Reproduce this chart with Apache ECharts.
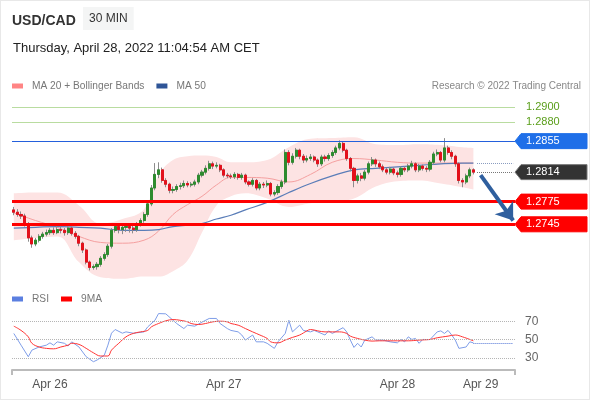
<!DOCTYPE html>
<html>
<head>
<meta charset="utf-8">
<script src="https://cdn.jsdelivr.net/npm/echarts@6/dist/echarts.min.js"></script>
<style>
  html, body { margin: 0; padding: 0; background: #fff; }
  #main { width: 590px; height: 400px; }
  #frame { position: absolute; left: 0; top: 0; width: 588px; height: 398px; border: 1px solid #e8e8e8; pointer-events: none; }
</style>
</head>
<body>
<div id="main"></div>
<div id="frame"></div>
<script>
// slots on the time axis (30 min bars, incl. empty space on the right)
const N_SLOTS = 139
const dayLabels = ["Apr 26", "Apr 27", "Apr 28", "Apr 29"]
const dayIndex = [10, 58, 106, 129]

// USD/CAD 30 min candles
const firstOpen = 1.2764
const closes = [
  1.2761, 1.2758, 1.2756, 1.2745, 1.2727, 1.2719, 1.2724, 1.2729, 1.2732, 1.2734,
  1.2737, 1.2734, 1.2738, 1.2737, 1.2734, 1.2740, 1.2733, 1.2729, 1.2720, 1.2711,
  1.2695, 1.2688, 1.2689, 1.2692, 1.2700, 1.2705, 1.2716, 1.2737, 1.2742, 1.2738,
  1.2741, 1.2742, 1.2740, 1.2738, 1.2745, 1.2750, 1.2758, 1.2772, 1.2793, 1.2811,
  1.2817, 1.2803, 1.2798, 1.2790, 1.2791, 1.2795, 1.2796, 1.2799, 1.2797, 1.2798,
  1.2801, 1.2810, 1.2814, 1.2819, 1.2825, 1.2822, 1.2823, 1.2817, 1.2810, 1.2809,
  1.2808, 1.2811, 1.2807, 1.2810, 1.2801, 1.2798, 1.2803, 1.2793, 1.2798, 1.2797,
  1.2799, 1.2785, 1.2787, 1.2795, 1.2801, 1.2840, 1.2827, 1.2835, 1.2843, 1.2835,
  1.2830, 1.2832, 1.2834, 1.2830, 1.2825, 1.2834, 1.2832, 1.2836, 1.2840, 1.2846,
  1.2852, 1.2843, 1.2832, 1.2819, 1.2803, 1.2809, 1.2806, 1.2814, 1.2825, 1.2830,
  1.2825, 1.2821, 1.2817, 1.2814, 1.2818, 1.2813, 1.2811, 1.2819, 1.2817, 1.2822,
  1.2825, 1.2817, 1.2822, 1.2819, 1.2818, 1.2827, 1.2838, 1.2840, 1.2830, 1.2846,
  1.2840, 1.2835, 1.2825, 1.2803, 1.2801, 1.2809, 1.2817, 1.2814
]
const highs = [
  1.2768, 1.2765, 1.2762, 1.2759, 1.2748, 1.2730, 1.2727, 1.2732, 1.2735, 1.2738,
  1.2740, 1.2741, 1.2743, 1.2742, 1.2740, 1.2744, 1.2742, 1.2736, 1.2731, 1.2722,
  1.2713, 1.2697, 1.2692, 1.2695, 1.2703, 1.2708, 1.2719, 1.2740, 1.2746, 1.2745,
  1.2744, 1.2746, 1.2745, 1.2743, 1.2748, 1.2753, 1.2761, 1.2775, 1.2797, 1.2826,
  1.2827, 1.2820, 1.2806, 1.2800, 1.2795, 1.2798, 1.2800, 1.2803, 1.2802, 1.2801,
  1.2804, 1.2813, 1.2817, 1.2823, 1.2829, 1.2828, 1.2827, 1.2825, 1.2819, 1.2813,
  1.2812, 1.2814, 1.2813, 1.2813, 1.2812, 1.2803, 1.2806, 1.2805, 1.2801, 1.2801,
  1.2803, 1.2801, 1.2790, 1.2798, 1.2804, 1.2844, 1.2843, 1.2839, 1.2846, 1.2845,
  1.2838, 1.2836, 1.2838, 1.2836, 1.2832, 1.2837, 1.2837, 1.2839, 1.2843, 1.2849,
  1.2856, 1.2854, 1.2845, 1.2834, 1.2821, 1.2812, 1.2813, 1.2817, 1.2828, 1.2834,
  1.2832, 1.2828, 1.2824, 1.2820, 1.2821, 1.2820, 1.2816, 1.2822, 1.2822, 1.2825,
  1.2829, 1.2827, 1.2825, 1.2824, 1.2822, 1.2830, 1.2841, 1.2844, 1.2842, 1.2859,
  1.2849, 1.2843, 1.2837, 1.2827, 1.2806, 1.2812, 1.2820, 1.2819
]
const lows = [
  1.2757, 1.2755, 1.2752, 1.2742, 1.2722, 1.2714, 1.2716, 1.2721, 1.2726, 1.2729,
  1.2731, 1.2731, 1.2732, 1.2733, 1.2730, 1.2731, 1.2730, 1.2726, 1.2716, 1.2707,
  1.2692, 1.2684, 1.2685, 1.2685, 1.2689, 1.2697, 1.2702, 1.2713, 1.2734, 1.2733,
  1.2732, 1.2735, 1.2734, 1.2733, 1.2735, 1.2742, 1.2747, 1.2755, 1.2769, 1.2790,
  1.2806, 1.2800, 1.2794, 1.2786, 1.2786, 1.2788, 1.2791, 1.2793, 1.2794, 1.2794,
  1.2795, 1.2798, 1.2807, 1.2811, 1.2816, 1.2818, 1.2819, 1.2814, 1.2807, 1.2806,
  1.2805, 1.2805, 1.2804, 1.2804, 1.2798, 1.2795, 1.2795, 1.2790, 1.2790, 1.2793,
  1.2794, 1.2782, 1.2782, 1.2784, 1.2792, 1.2798, 1.2823, 1.2824, 1.2832, 1.2831,
  1.2826, 1.2827, 1.2829, 1.2827, 1.2821, 1.2822, 1.2828, 1.2829, 1.2833, 1.2837,
  1.2843, 1.2840, 1.2829, 1.2815, 1.2794, 1.2799, 1.2802, 1.2803, 1.2811, 1.2822,
  1.2821, 1.2818, 1.2814, 1.2811, 1.2811, 1.2810, 1.2807, 1.2808, 1.2814, 1.2814,
  1.2819, 1.2814, 1.2814, 1.2816, 1.2814, 1.2815, 1.2824, 1.2835, 1.2827, 1.2827,
  1.2837, 1.2831, 1.2821, 1.2799, 1.2794, 1.2798, 1.2806, 1.2811
]

// MA 20 + Bollinger Bands, MA 50 (read every few bars)
const bandIdx = [0, 6, 12, 18, 24, 30, 36, 40, 44, 48, 52, 56, 60, 64, 70, 76, 82, 88, 94, 100, 106, 112, 118, 124, 127]
const bbUpper = [1.2786, 1.2787, 1.2787, 1.2770, 1.2746, 1.2752, 1.2765, 1.2810, 1.2830, 1.2835, 1.2836, 1.2834, 1.2827, 1.2827, 1.2830, 1.2847, 1.2858, 1.2859, 1.2860, 1.2851, 1.2850, 1.2851, 1.2850, 1.2847, 1.2846]
const bbLower = [1.2724, 1.2727, 1.2729, 1.2695, 1.2675, 1.2673, 1.2676, 1.2676, 1.2683, 1.2697, 1.2734, 1.2770, 1.2782, 1.2786, 1.2779, 1.2768, 1.2773, 1.2775, 1.2779, 1.2795, 1.2802, 1.2803, 1.2799, 1.2794, 1.2791]
const ma20 = [1.2760, 1.2750, 1.2741, 1.2729, 1.2721, 1.2720, 1.2724, 1.2736, 1.2758, 1.2771, 1.2782, 1.2797, 1.2807, 1.2807, 1.2806, 1.2801, 1.2811, 1.2827, 1.2832, 1.2830, 1.2827, 1.2826, 1.2826, 1.2826, 1.2826]
const ma50 = [1.2740, 1.2741, 1.2742, 1.2741, 1.2740, 1.2737, 1.2737, 1.2738, 1.2742, 1.2744, 1.2746, 1.2752, 1.2757, 1.2764, 1.2774, 1.2787, 1.2799, 1.2809, 1.2817, 1.2819, 1.2821, 1.2823, 1.2825, 1.2826, 1.2826]

// RSI and its 9MA: [bar index, value]
const rsi = [
  [0, 56.7], [2, 44], [4, 31.4], [5, 38.6], [7, 42], [9, 44], [10, 46.5], [11, 44], [12, 47.6], [14, 46],
  [15, 43], [16, 47.6], [18, 42], [20, 31.4], [22, 26], [23, 27.8], [25, 33], [26, 44], [27, 57], [28, 61],
  [30, 57], [31, 58.4], [33, 57], [34, 57.4], [36, 58.4], [37, 63.8], [39, 71], [40, 78.3], [42, 78], [44, 71],
  [45, 67.5], [47, 62], [48, 65.7], [50, 64.6], [52, 69], [54, 73], [56, 73], [57, 67.5], [59, 62], [60, 60],
  [62, 58.4], [63, 55], [64, 49.5], [66, 55], [67, 47.6], [69, 47.6], [70, 46], [72, 40.5], [73, 47.6], [75, 56.7],
  [76, 71], [77, 58.4], [79, 65.7], [80, 60], [82, 58.4], [83, 60], [84, 58.4], [86, 55], [87, 59.5], [88, 56.7],
  [91, 63], [92, 58.4], [93, 49.5], [94, 41.5], [95, 46], [96, 42], [97, 49.5], [99, 53], [100, 49.5], [102, 49.5],
  [104, 47.6], [106, 46.5], [107, 50.2], [108, 47.6], [109, 53], [110, 50.2], [111, 51.3], [112, 46], [113, 50.2], [115, 50],
  [117, 58.4], [118, 59.5], [119, 56.7], [120, 60], [121, 55], [122, 49.5], [123, 40.5], [125, 42], [126, 47.6], [127, 46.5]
]
const rsiMa = [
  [0, 64.6], [2, 60], [4, 53], [5, 46], [7, 42], [9, 40.5], [11, 40], [13, 42], [15, 44], [16, 46],
  [18, 44.8], [20, 40.5], [22, 35.7], [24, 32.2], [26, 32.2], [27, 38.6], [29, 46], [31, 53], [33, 56.7], [35, 58.4],
  [37, 60], [38, 63.8], [40, 67.5], [42, 70.4], [44, 71.8], [46, 71], [48, 69.3], [49, 67.5], [51, 66.4], [53, 67.5],
  [55, 69.3], [57, 70], [59, 69.3], [60, 67.5], [62, 65.7], [64, 62], [66, 58.4], [68, 55], [70, 51.3], [71, 47.6],
  [73, 46.5], [75, 49.5], [77, 52.4], [79, 55], [81, 59.5], [82, 61], [84, 59.5], [86, 58.4], [88, 58.4], [90, 58.4],
  [92, 56.7], [93, 53.8], [95, 51.3], [97, 49.5], [99, 48.4], [101, 48.7], [104, 48.7], [106, 48.7], [109, 48.7], [112, 49.5],
  [115, 50.2], [117, 52], [120, 53.8], [122, 55], [124, 53], [126, 50.2], [127, 48.7]
]
const rsiLevels = [70, 50, 30]

// key levels
const levels = [1.2900, 1.2880, 1.2855, 1.2775, 1.2745]
const lastPrice = closes[closes.length - 1]

// --- build ---
const cats = Array.from({ length: N_SLOTS }, (_, i) => String(i))
const labelAt = {}
dayIndex.forEach((d, i) => { labelAt[d] = dayLabels[i] })

const opens = closes.map((c, i) => (i === 0 ? firstOpen : closes[i - 1]))
const wickData = closes.map((c, i) => [opens[i], c, lows[i], highs[i]])
const bodyData = closes.map((c, i) => [opens[i], c, Math.min(opens[i], c), Math.max(opens[i], c)])

const pairs = (arr) => bandIdx.map((x, i) => [x, arr[i]])

const levelLine = [
  { color: "#b9dca0", width: 1 },
  { color: "#b9dca0", width: 1 },
  { color: "#2460dc", width: 1 },
  { color: "#ff0000", width: 3 },
  { color: "#ff0000", width: 3 }
]

const FONT = "Liberation Sans, Arial, sans-serif"

var myChart = echarts.init(document.getElementById("main"), null, { renderer: "canvas" })

let option = {
  animation: false,
  textStyle: { fontFamily: FONT },
  title: [
    { text: "USD/CAD", left: 7, top: 9, textStyle: { fontSize: 14, fontWeight: "bold", color: "#333", fontFamily: FONT } },
    { text: "30 MIN", left: 83, top: 7, padding: [6, 6, 5, 6], backgroundColor: "#f4f5f5", textStyle: { fontSize: 12, fontWeight: "normal", color: "#333", fontFamily: FONT } },
    { text: "Thursday, April 28, 2022 11:04:54 AM CET", left: 8, top: 37, textStyle: { fontSize: 13, fontWeight: "normal", color: "#222", fontFamily: FONT } },
    { text: "Research © 2022 Trading Central", right: 4, top: 76, textStyle: { fontSize: 10, fontWeight: "normal", color: "#888", fontFamily: FONT } }
  ],
  legend: [
    {
      data: ["MA 20 + Bollinger Bands", "MA 50"],
      left: 7, top: 76, icon: "rect", itemWidth: 11, itemHeight: 5, itemGap: 12,
      selectedMode: false,
      textStyle: { fontSize: 10.2, color: "#777", fontFamily: FONT, padding: [0, 0, 0, 4] }
    },
    {
      data: ["RSI", "9MA"],
      left: 7, top: 289, icon: "rect", itemWidth: 11, itemHeight: 5, itemGap: 12,
      selectedMode: false,
      textStyle: { fontSize: 10.2, color: "#777", fontFamily: FONT, padding: [0, 0, 0, 4] }
    }
  ],
  grid: [
    { left: 12, right: 75, top: 92, height: 189 },
    { left: 12, right: 75, top: 312, height: 58 }
  ],
  xAxis: [
    { type: "category", gridIndex: 0, data: cats, boundaryGap: true, show: false },
    {
      type: "category", gridIndex: 1, data: cats, boundaryGap: true,
      axisLine: { lineStyle: { color: "#bbb", width: 2 } },
      axisTick: { show: true, length: 5, interval: (i) => i === 0 || i === N_SLOTS, lineStyle: { color: "#bbb", width: 2 } },
      axisLabel: { interval: 0, margin: 9, color: "#555", fontSize: 12, fontFamily: FONT, formatter: (v, i) => labelAt[i] || "" },
      splitLine: { show: false }
    }
  ],
  yAxis: [
    { type: "value", gridIndex: 0, min: 1.2670, max: 1.2920, show: false, splitLine: { show: false } },
    { type: "value", gridIndex: 1, min: 17, max: 80, show: false, splitLine: { show: false } }
  ],
  series: [
    {
      name: "bbBase", type: "line", xAxisIndex: 0, yAxisIndex: 0, stack: "bb",
      data: pairs(bbLower), smooth: 0.4, symbol: "none", silent: true, z: 1,
      lineStyle: { opacity: 0 }
    },
    {
      name: "bbFill", type: "line", xAxisIndex: 0, yAxisIndex: 0, stack: "bb",
      data: bandIdx.map((x, i) => [x, +(bbUpper[i] - bbLower[i]).toFixed(4)]),
      smooth: 0.4, symbol: "none", silent: true, z: 1,
      lineStyle: { opacity: 0 },
      areaStyle: { color: "#fde3e3", opacity: 1 }
    },
    {
      name: "MA 20 + Bollinger Bands", type: "line", xAxisIndex: 0, yAxisIndex: 0,
      data: pairs(ma20), smooth: 0.4, symbol: "none", silent: true, z: 2,
      itemStyle: { color: "#ff8585" },
      lineStyle: { color: "#f5a0a0", width: 1 }
    },
    {
      name: "MA 50", type: "line", xAxisIndex: 0, yAxisIndex: 0,
      data: pairs(ma50), smooth: 0.4, symbol: "none", silent: true, z: 2,
      itemStyle: { color: "#2f5597" },
      lineStyle: { color: "#5a7db8", width: 1.2 },
      markLine: {
        silent: true, symbol: "none", animation: false, precision: 4,
        label: { show: false },
        data: levels.map((v, i) => ({ yAxis: v, lineStyle: { type: "solid", color: levelLine[i].color, width: levelLine[i].width } }))
      }
    },
    {
      name: "wicks", type: "candlestick", xAxisIndex: 0, yAxisIndex: 0, z: 3,
      data: wickData, barWidth: 2.6, silent: true,
      itemStyle: { color: "#8c8c8c", color0: "#8c8c8c", borderColor: "#8c8c8c", borderColor0: "#8c8c8c", borderWidth: 1 }
    },
    {
      name: "bodies", type: "candlestick", xAxisIndex: 0, yAxisIndex: 0, z: 4,
      data: bodyData, barWidth: 2.6, silent: true,
      itemStyle: { color: "#2e8b2e", color0: "#e3101b", borderColor: "#2e8b2e", borderColor0: "#e3101b", borderWidth: 1 },
      markLine: {
        silent: true, animation: false, precision: 4,
        label: { show: false },
        data: [
          [{ coord: [128, lastPrice], symbol: "none", lineStyle: { type: "dotted", color: "#777", width: 1 } }, { coord: [138, lastPrice], symbol: "none" }],
          [{ coord: [128, ma50[ma50.length - 1]], symbol: "none", lineStyle: { type: "dotted", color: "#8a9cc0", width: 1 } }, { coord: [138, ma50[ma50.length - 1]], symbol: "none" }],
          [{ coord: [129, 1.2810], symbol: "none", lineStyle: { type: "solid", color: "#2f5f9e", width: 4 } }, { coord: [138, 1.2750], symbol: "arrow", symbolSize: [17, 16] }]
        ]
      }
    },
    {
      name: "RSI", type: "line", xAxisIndex: 1, yAxisIndex: 1,
      data: rsi, symbol: "none", silent: true, z: 3,
      itemStyle: { color: "#5b7fe0" },
      lineStyle: { color: "#7e9de8", width: 1 },
      markLine: {
        silent: true, symbol: "none", animation: false,
        data: rsiLevels.map((v) => ({
          yAxis: v,
          lineStyle: { type: "dotted", color: "#b5b5b5", width: 1 },
          label: { show: true, position: "end", distance: 10, formatter: String(v), color: "#666", fontSize: 12, fontFamily: FONT }
        })).concat([
          [{ coord: [127, rsi[rsi.length - 1][1]], lineStyle: { type: "dotted", color: "#4f73d6", width: 1 }, label: { show: false } },
           { coord: [138, rsi[rsi.length - 1][1]] }]
        ])
      }
    },
    {
      name: "9MA", type: "line", xAxisIndex: 1, yAxisIndex: 1,
      data: rsiMa, smooth: 0.4, symbol: "none", silent: true, z: 4,
      itemStyle: { color: "#ff0000" },
      lineStyle: { color: "#ff3333", width: 1 }
    }
  ]
}

myChart.setOption(option)

// price tags on the right, placed with the chart's own y scale
const tags = [
  { v: levels[0], text: "#5a9e1a", box: null },
  { v: levels[1], text: "#5a9e1a", box: null },
  { v: levels[2], text: "#fff", box: "#1f6fe8" },
  { v: lastPrice, text: "#fff", box: "#333" },
  { v: levels[3], text: "#fff", box: "#ff0000" },
  { v: levels[4], text: "#fff", box: "#ff0000" }
]
const graphics = []
tags.forEach((t) => {
  const y = myChart.convertToPixel({ yAxisIndex: 0 }, t.v)
  if (t.box) {
    graphics.push({
      type: "polygon", silent: true, z: 10,
      shape: { points: [[515, y], [521, y - 7.5], [587, y - 7.5], [587, y + 7.5], [521, y + 7.5]] },
      style: { fill: t.box, stroke: t.box === "#333" ? "#777" : t.box, lineWidth: 1 }
    })
  }
  graphics.push({
    type: "text", silent: true, z: 11, x: 526, y: y,
    style: { text: t.v.toFixed(4), fill: t.text, font: "11px " + FONT, verticalAlign: "middle", align: "left" }
  })
})
myChart.setOption({ graphic: graphics })

window.onresize = () => {
  myChart.resize()
}
</script>
</body>
</html>
